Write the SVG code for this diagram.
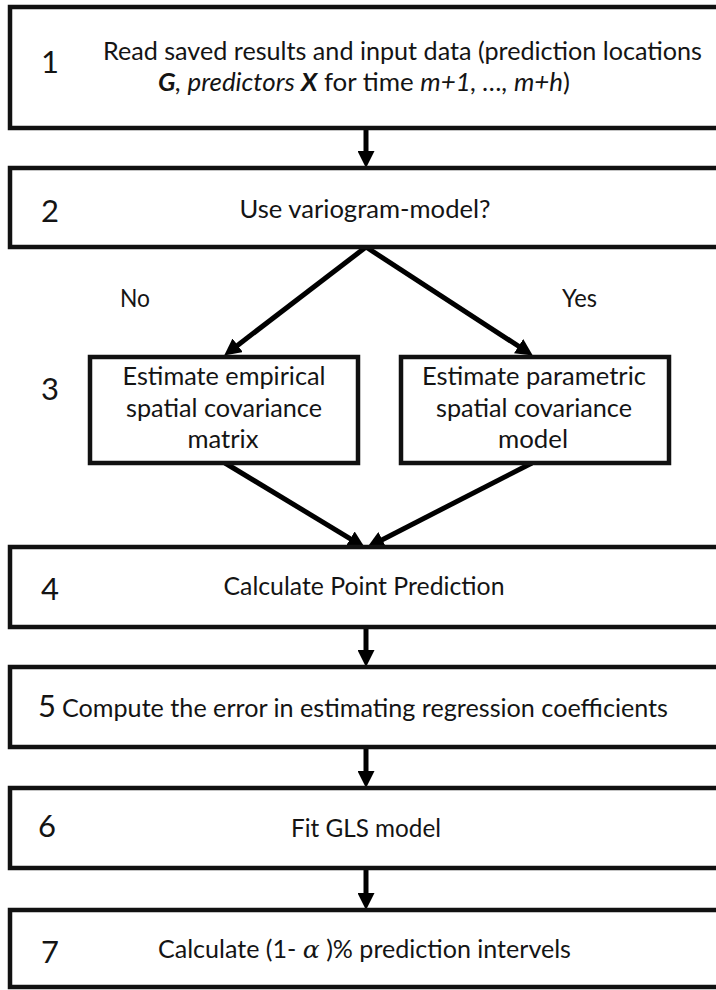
<svg xmlns="http://www.w3.org/2000/svg" width="716" height="990" viewBox="0 0 716 990">
<style>
.box{fill:#fff;stroke:#111;stroke-width:4.5}
.con{stroke:#000;stroke-width:5;fill:none;marker-end:url(#ah)}
.t{font-family:Lato,"Open Sans","Liberation Sans",sans-serif;font-size:25px;fill:#141414}
.n{font-family:Lato,"Open Sans","Liberation Sans",sans-serif;font-size:31px;fill:#141414;text-anchor:middle}
.c{text-anchor:middle}
.i{font-style:italic}
.bi{font-style:italic;font-weight:bold}
.al{font-family:"DejaVu Serif","Liberation Serif",serif;font-style:italic}
</style>
<defs>
<marker id="ah" markerUnits="userSpaceOnUse" markerWidth="17" markerHeight="17" refX="6" refY="8.5" orient="auto" viewBox="0 0 17 17">
<path d="M0,0 L17,8.5 L0,17 z" fill="#000"/>
</marker>
</defs>
<rect width="716" height="990" fill="#fff"/>
<g id="connectors">
<line class="con" x1="366" y1="128" x2="366" y2="157"/>
<line class="con" x1="366" y1="247" x2="232.9" y2="348.9"/>
<line class="con" x1="366" y1="247" x2="523.6" y2="349.5"/>
<line class="con" x1="225" y1="463" x2="355.4" y2="541.8"/>
<line class="con" x1="532" y1="463" x2="376.9" y2="542.4"/>
<line class="con" x1="366" y1="627" x2="366" y2="656"/>
<line class="con" x1="366" y1="747" x2="366" y2="777"/>
<line class="con" x1="366" y1="868" x2="366" y2="899"/>
</g>
<g id="node1">
<rect class="box" x="10" y="7" width="720" height="121"/>
<text class="n" x="50" y="73">1</text>
<text class="t" x="103" y="60" textLength="599" lengthAdjust="spacingAndGlyphs">Read saved results and input data (prediction locations</text>
<text class="t" x="158" y="91" textLength="412" lengthAdjust="spacingAndGlyphs"><tspan class="bi">G</tspan><tspan class="i">, predictors </tspan><tspan class="bi">X</tspan> for time <tspan class="i">m+1, …,  m+h</tspan>)</text>
</g>
<g id="node2">
<rect class="box" x="10" y="168" width="720" height="79"/>
<text class="n" x="50" y="222">2</text>
<text class="t c" x="365" y="218" textLength="251" lengthAdjust="spacingAndGlyphs">Use variogram-model?</text>
</g>
<g id="labels">
<text class="t" x="120" y="307" textLength="30" lengthAdjust="spacingAndGlyphs">No</text>
<text class="t" x="562" y="307" textLength="35" lengthAdjust="spacingAndGlyphs">Yes</text>
<text class="n" x="50" y="400">3</text>
</g>
<g id="node3a">
<rect class="box" x="90" y="357" width="268" height="106"/>
<text class="t c" x="224" y="385" textLength="203" lengthAdjust="spacingAndGlyphs">Estimate empirical</text>
<text class="t c" x="224" y="417" textLength="196" lengthAdjust="spacingAndGlyphs">spatial covariance</text>
<text class="t c" x="223" y="448" textLength="71" lengthAdjust="spacingAndGlyphs">matrix</text>
</g>
<g id="node3b">
<rect class="box" x="401" y="357" width="268" height="106"/>
<text class="t c" x="534" y="385" textLength="224" lengthAdjust="spacingAndGlyphs">Estimate parametric</text>
<text class="t c" x="534" y="417" textLength="196" lengthAdjust="spacingAndGlyphs">spatial covariance</text>
<text class="t c" x="533" y="448" textLength="70" lengthAdjust="spacingAndGlyphs">model</text>
</g>
<g id="node4">
<rect class="box" x="10" y="547" width="720" height="80"/>
<text class="n" x="50" y="600">4</text>
<text class="t c" x="364" y="595" textLength="281" lengthAdjust="spacingAndGlyphs">Calculate Point Prediction</text>
</g>
<g id="node5">
<rect class="box" x="10" y="667" width="720" height="80"/>
<text class="n" x="47" y="717">5</text>
<text class="t" x="62" y="717" textLength="606" lengthAdjust="spacingAndGlyphs">Compute the error in estimating regression coefficients</text>
</g>
<g id="node6">
<rect class="box" x="10" y="788" width="720" height="80"/>
<text class="n" x="47" y="837">6</text>
<text class="t c" x="366" y="837" textLength="150" lengthAdjust="spacingAndGlyphs">Fit GLS model</text>
</g>
<g id="node7">
<rect class="box" x="10" y="910" width="720" height="77"/>
<text class="n" x="50" y="963">7</text>
<text class="t" x="158" y="958" textLength="413" lengthAdjust="spacingAndGlyphs">Calculate (1- <tspan class="al">α</tspan> )% prediction intervels</text>
</g>
</svg>
